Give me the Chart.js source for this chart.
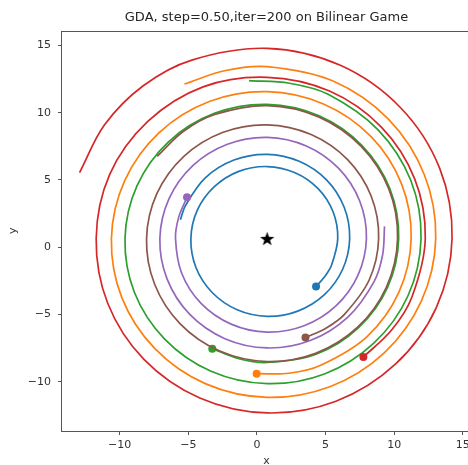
<!DOCTYPE html>
<html>
<head>
<meta charset="utf-8">
<script src="https://cdn.jsdelivr.net/npm/chart.js@4.4.0/dist/chart.umd.min.js"></script>
<style>
  html, body { margin: 0; padding: 0; background: #fff; overflow: hidden; }
  #wrap { width: 480px; height: 465px; }
</style>
</head>
<body>
<div id="wrap"><canvas id="chart" width="480" height="465"></canvas></div>
<script>
const chartTitle = 'GDA, step=0.50,iter=200 on Bilinear Game';
const xTicks = [-10, -5, 0, 5, 10, 15];
const yTicks = [-10, -5, 0, 5, 10, 15];
const equilibrium = [0.75, 0.65];

// trajectories, first point = start (drawn with a dot)
const blueX = [4.31, 4.96, 5.45, 5.89, 5.55, 4.46, 2.78, 0.75, -1.32, -3.10, -4.34, -4.81, -4.44, -3.26, -1.44, 0.75, 2.98, 4.92, 6.25, 6.76, 6.36, 5.09, 3.12, 0.75, -1.67, -3.76, -5.20, -5.57];
const blueY = [-2.91, -2.16, -1.30, 0.65, 2.64, 4.36, 5.54, 6.00, 5.64, 4.50, 2.76, 0.65, -1.50, -3.36, -4.64, -5.13, -4.74, -3.52, -1.63, 0.65, 2.97, 4.99, 6.37, 6.90, 6.48, 5.16, 3.11, 2.05];

const orangeX = [-0.02, 2.33, 4.65, 8.03, 10.35, 11.24, 10.54, 8.32, 4.89, 0.75, -3.47, -7.12, -9.63, -10.60, -9.84, -7.43, -3.72, 0.75, 5.31, 9.26, 11.98, 13.03, 12.20, 9.60, 5.59, 0.75, -2.36, -5.28];
const orangeY = [-9.39, -9.36, -8.76, -6.63, -3.33, 0.65, 4.71, 8.22, 10.63, 11.56, 10.83, 8.52, 4.95, 0.65, -3.74, -7.53, -10.15, -11.15, -10.36, -7.86, -4.00, 0.65, 5.39, 9.50, 12.33, 13.42, 13.12, 12.13];

const greenX = [-3.25, -1.31, 0.75, 4.31, 7.39, 9.52, 10.33, 9.69, 7.66, 4.53, 0.75, -3.10, -6.44, -8.73, -9.61, -8.92, -6.72, -3.34, 0.75, 4.92, 8.52, 11.01, 11.96, 11.21, 8.83, 5.19, 2.37, -0.58];
const greenY = [-7.53, -8.28, -8.56, -7.95, -5.99, -2.98, 0.65, 4.35, 7.56, 9.77, 10.62, 9.95, 7.84, 4.58, 0.65, -3.36, -6.82, -9.21, -10.13, -9.41, -7.12, -3.60, 0.65, 4.98, 8.73, 11.37, 12.19, 12.38];

const redX = [7.76, 9.80, 11.29, 12.27, 11.49, 9.05, 5.29, 0.75, -3.92, -7.95, -10.73, -11.71, -10.87, -8.23, -4.16, 0.75, 5.76, 10.09, 13.08, 14.22, 13.32, 10.47, 6.08, 0.75, -4.74, -8.28, -11.10, -12.92];
const redY = [-8.15, -6.17, -3.71, 0.65, 5.10, 8.95, 11.61, 12.63, 11.92, 9.35, 5.40, 0.65, -4.16, -8.33, -11.20, -12.31, -11.44, -8.69, -4.46, 0.65, 5.86, 10.37, 13.52, 14.78, 13.91, 12.00, 9.10, 5.55];

const purpleX = [-5.09, -5.69, -5.93, -5.48, -4.07, -1.88, 0.75, 3.44, 5.76, 7.36, 7.98, 7.49, 5.96, 3.60, 0.75, -2.15, -4.67, -6.40, -7.07, -6.54, -4.89, -2.33, 0.75, 3.89, 6.61, 8.53, 9.16, 9.30];
const purpleY = [3.72, 2.26, 0.65, -1.93, -4.17, -5.71, -6.30, -5.83, -4.36, -2.09, 0.65, 3.44, 5.86, 7.53, 8.17, 7.66, 6.07, 3.61, 0.65, -2.37, -4.99, -6.79, -7.48, -6.93, -5.21, -2.57, -0.57, 1.55];

const brownX = [3.54, 5.06, 6.38, 8.18, 8.87, 8.33, 6.61, 3.95, 0.75, -2.51, -5.34, -7.29, -8.04, -7.45, -5.59, -2.71, 0.75, 4.28, 7.34, 9.44, 10.25, 9.62, 7.60, 4.50, 0.75, -3.07, -5.37, -7.26];
const brownY = [-6.71, -5.99, -4.98, -2.43, 0.65, 3.79, 6.51, 8.38, 9.10, 8.53, 6.74, 3.98, 0.65, -2.75, -5.69, -7.71, -8.49, -7.88, -5.94, -2.95, 0.65, 4.32, 7.50, 9.69, 10.53, 9.87, 8.60, 6.76];

const runs = [[blueX, blueY], [orangeX, orangeY], [greenX, greenY], [redX, redY], [purpleX, purpleY], [brownX, brownY]];
const colors = ['#1f77b4', '#ff7f0e', '#2ca02c', '#d62728', '#9467bd', '#8c564b'];

// filled 5 point star for the equilibrium marker
function starImage(size) {
  const c = document.createElement('canvas');
  c.width = size; c.height = size;
  const g = c.getContext('2d');
  const R = size / 2, r = R * 0.4;
  g.beginPath();
  for (let k = 0; k < 10; k++) {
    const a = -Math.PI / 2 + k * Math.PI / 5;
    const rr = k % 2 ? r : R;
    g.lineTo(R + rr * Math.cos(a), R + rr * Math.sin(a) + 0.8);
  }
  g.closePath();
  g.fillStyle = '#000';
  g.fill();
  return c;
}

const datasets = runs.map((r, i) => ({
  data: r[0].map((x, j) => ({ x: x, y: r[1][j] })),
  showLine: true,
  borderColor: colors[i],
  borderWidth: 1.7,
  tension: 0.34,
  pointRadius: c => c.dataIndex === 0 ? 4 : 0,
  pointBackgroundColor: colors[i],
  pointBorderWidth: 0,
  order: 10 - i
}));

datasets.push({
  data: [{ x: equilibrium[0], y: equilibrium[1] }],
  pointStyle: starImage(15),
  pointRadius: 7,
  order: 0
});

const frame = {
  id: 'frame',
  afterDraw(chart) {
    const { ctx, chartArea: a } = chart;
    ctx.save();
    ctx.strokeStyle = '#555';
    ctx.lineWidth = 1;
    ctx.strokeRect(Math.round(a.left) - 0.5, Math.round(a.top) + 0.5, Math.round(a.width), Math.round(a.height));
    ctx.restore();
  }
};

const minus = v => String(v).replace('-', '\u2212');

Chart.defaults.font.family = "'DejaVu Sans', sans-serif";

new Chart(document.getElementById('chart'), {
  type: 'scatter',
  data: { datasets: datasets },
  plugins: [frame],
  options: {
    responsive: false,
    animation: false,
    events: [],
    devicePixelRatio: 1,
    layout: { padding: { left: 0, right: 9, top: 0, bottom: 0 } },
    plugins: {
      legend: { display: false },
      tooltip: { enabled: false },
      title: {
        display: true,
        text: chartTitle,
        fullSize: false,
        color: '#262626',
        font: { size: 13, weight: 'normal' },
        padding: { top: 10, bottom: 5 }
      }
    },
    scales: {
      x: {
        type: 'linear',
        min: -14.2,
        max: 15.6,
        afterFit: s => { s.height = 34; },
        afterBuildTicks: s => { s.ticks = xTicks.map(v => ({ value: v })); },
        grid: { drawOnChartArea: false, drawTicks: true, tickLength: 4, color: '#555' },
        border: { display: false },
        ticks: { color: '#333', font: { size: 11 }, padding: 4, maxRotation: 0, callback: minus },
        title: { display: true, text: 'x', color: '#333', font: { size: 11 }, padding: { top: 0, bottom: -3 } }
      },
      y: {
        type: 'linear',
        min: -13.65,
        max: 16.1,
        afterFit: s => { s.width = 62; },
        afterBuildTicks: s => { s.ticks = yTicks.map(v => ({ value: v })); },
        grid: { drawOnChartArea: false, drawTicks: true, tickLength: 4, color: '#555' },
        border: { display: false },
        ticks: { color: '#333', font: { size: 11 }, padding: 7, callback: minus },
        title: { display: true, text: 'y', color: '#333', font: { size: 11 }, padding: { top: 7, bottom: 0 } }
      }
    }
  }
});
</script>
</body>
</html>
